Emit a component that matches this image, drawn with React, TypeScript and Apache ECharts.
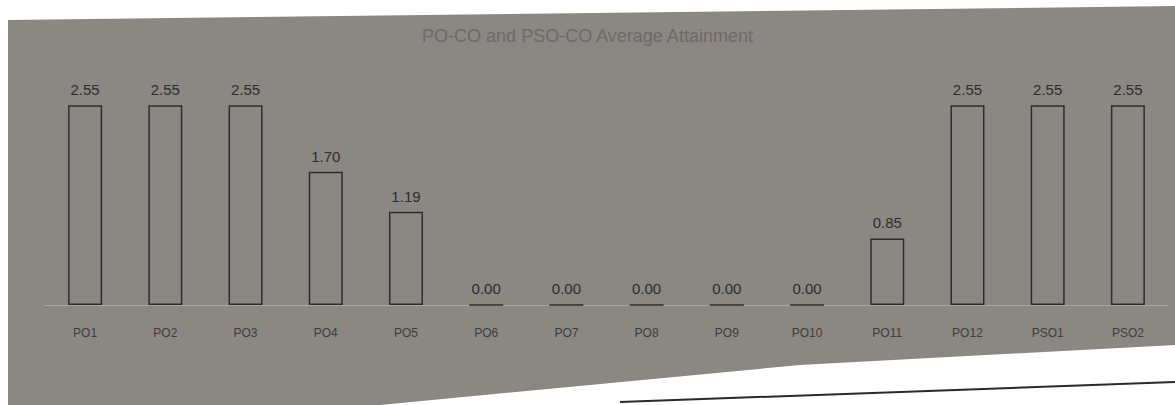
import React, { useEffect, useRef } from "react";
import * as echarts from "echarts";

const categories = ["PO1", "PO2", "PO3", "PO4", "PO5", "PO6", "PO7", "PO8", "PO9", "PO10", "PO11", "PO12", "PSO1", "PSO2"];
const values = [2.55, 2.55, 2.55, 1.7, 1.19, 0, 0, 0, 0, 0, 0.85, 2.55, 2.55, 2.55];
const titleText = "PO-CO and PSO-CO Average Attainment";

export default function App() {
  const ref = useRef<HTMLDivElement>(null);
  useEffect(() => {
    if (!ref.current) return;
    const chart = echarts.init(ref.current, undefined, { renderer: "svg" });
    chart.setOption({
      animation: false,
      backgroundColor: "#ffffff",
      title: {
        text: titleText,
        left: "center",
        top: 22,
        textStyle: { color: "#6e6a67", fontSize: 18, fontWeight: "normal", fontFamily: "Liberation Sans" },
      },
      graphic: [
        {
          type: "polygon",
          z: -10,
          silent: true,
          shape: {
            points: [[8, 20], [1175, 6], [1175, 345], [800, 365], [380, 405], [8, 405]],
          },
          style: { fill: "#8b8783" },
        },
        {
          type: "line",
          z: -9,
          shape: { x1: 620, y1: 402, x2: 1175, y2: 382 },
          style: { stroke: "#2a2a2a", lineWidth: 2 },
        },
      ],
      grid: { left: 45, right: 7, top: 70, bottom: 100 },
      xAxis: {
        type: "category",
        data: categories,
        axisLine: { lineStyle: { color: "#a9a5a1", width: 1 } },
        axisTick: { show: false },
        axisLabel: { color: "#3f3d3b", fontSize: 12, margin: 22, fontFamily: "Liberation Sans" },
      },
      yAxis: {
        type: "value",
        min: 0,
        max: 3,
        interval: 0.5,
        show: false,
        splitLine: { show: false },
      },
      series: [
        {
          type: "bar",
          data: values,
          barWidth: 34,
          itemStyle: { color: "rgba(0,0,0,0)", borderColor: "#2f2d2c", borderWidth: 1.5 },
          label: {
            show: true,
            position: "top",
            distance: 8,
            color: "#2f2d2c",
            fontSize: 15,
            fontFamily: "Liberation Sans",
            formatter: (p: any) => Number(p.value).toFixed(2),
          },
        },
      ],
    });
    return () => chart.dispose();
  }, []);
  return <div ref={ref} style={{ position: "fixed", left: 0, top: 0, width: 1175, height: 405 }} />;
}
